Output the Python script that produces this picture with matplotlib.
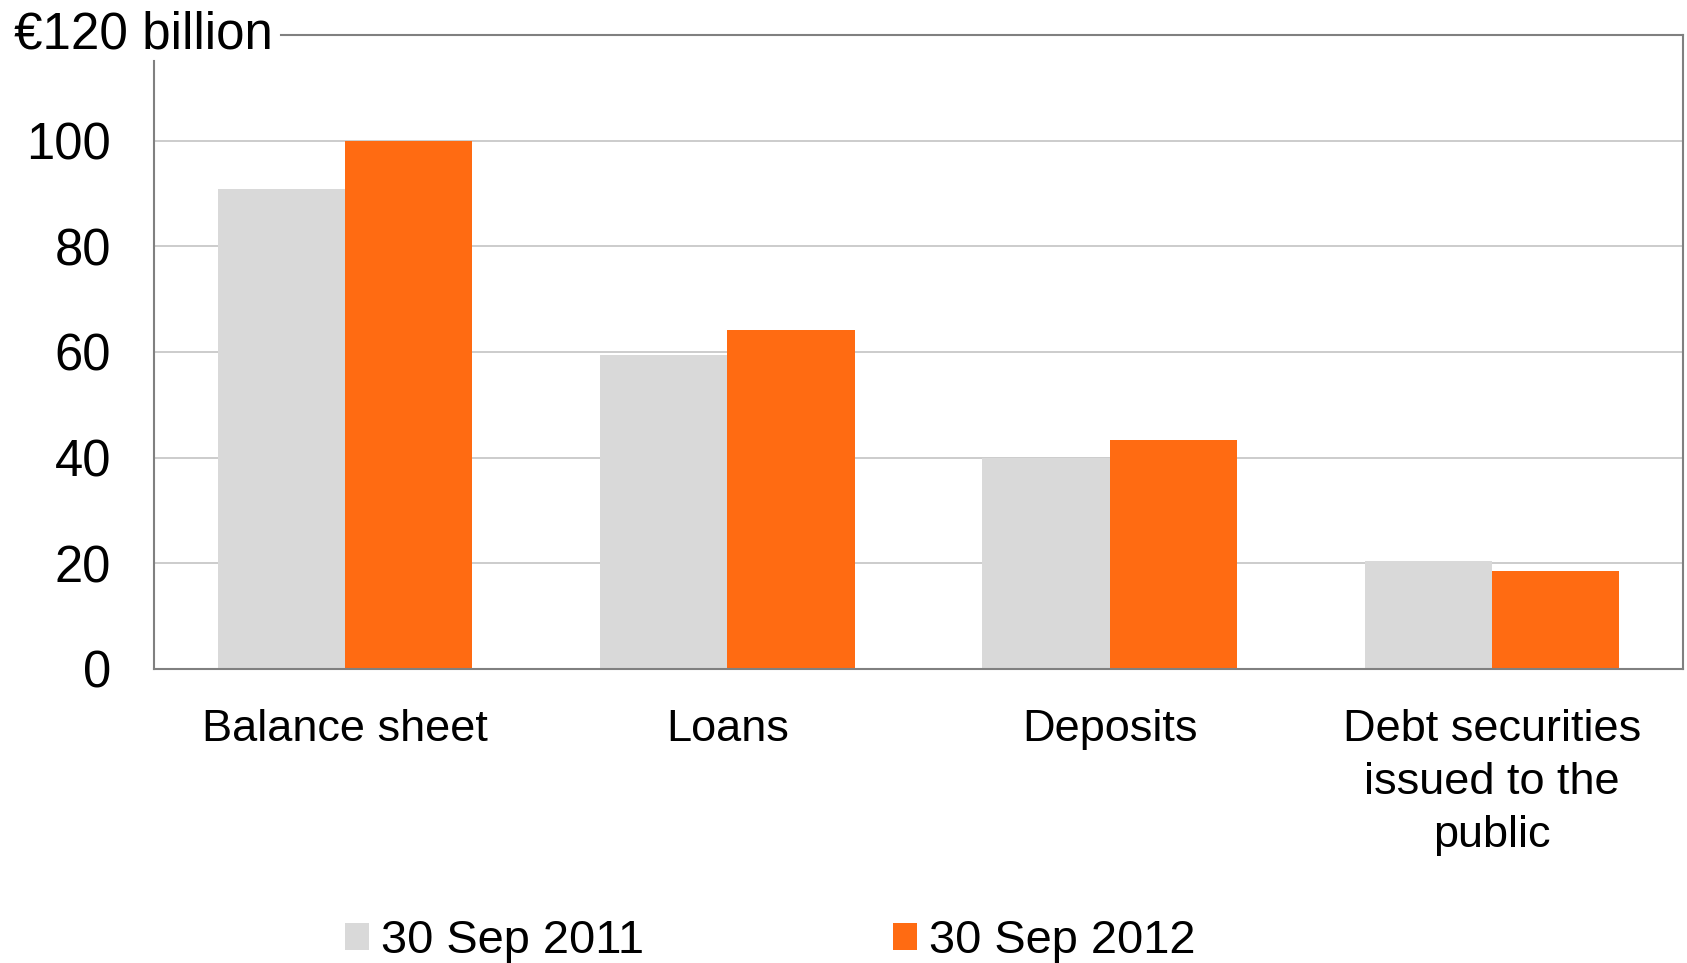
import numpy as np
import matplotlib
matplotlib.use("Agg")
import matplotlib.pyplot as plt
import matplotlib.transforms as mtransforms
from matplotlib.patches import Patch

plt.rcParams['font.family'] = ['Liberation Sans', 'DejaVu Sans']

categories = ["Balance sheet", "Loans", "Deposits", "Debt securities\nissued to the\npublic"]
sep_2011 = [90.9, 59.5, 40.0, 20.5]
sep_2012 = [99.9, 64.2, 43.4, 18.6]
series_labels = ["30 Sep 2011", "30 Sep 2012"]
yticks = [0, 20, 40, 60, 80, 100]

gray = "#d9d9d9"
orange = "#ff6b12"
spine_col = "#808080"

fig = plt.figure(figsize=(16.87, 9.63), dpi=100)
ax = fig.add_axes([154 / 1687, 1 - 669 / 963, (1683 - 154) / 1687, (669 - 35) / 963])

x = np.arange(len(categories))
w = 0.333
ax.bar(x - w / 2, sep_2011, width=w, color=gray, zorder=2)
ax.bar(x + w / 2, sep_2012, width=w, color=orange, zorder=2)

ax.set_xlim(-0.5, len(categories) - 0.5)
ax.set_ylim(0, 120)
ax.set_yticks(yticks)
ax.set_yticklabels([str(v) for v in yticks], fontsize=36.5)
ax.set_xticks(x)
ax.set_xticklabels(categories, fontsize=32.5, linespacing=1.37)
ax.tick_params(axis='y', length=0, pad=31)
ax.tick_params(axis='x', length=0, pad=29)

ax.yaxis.grid(True, color="#c8c8c8", linewidth=1.3, zorder=0)
ax.set_axisbelow(True)

ax.spines['top'].set_visible(False)
for s in ['left', 'right', 'bottom']:
    ax.spines[s].set_color(spine_col)
    ax.spines[s].set_linewidth(1.5)
ax.spines['left'].set_bounds(0, 115)

# top line at 120 starting after the unit label
ax.axhline(120, xmin=(281 - 154) / 1529, xmax=1, color=spine_col, linewidth=1.5, clip_on=False)
trans = mtransforms.blended_transform_factory(fig.transFigure, ax.transData)
ax.text(14 / 1687, 120, "€120 billion", transform=trans, ha='left', va='center', fontsize=36.8)

handles = [Patch(facecolor=gray, edgecolor='none'), Patch(facecolor=orange, edgecolor='none')]
fig.legend(handles, series_labels, loc='center', bbox_to_anchor=(770 / 1687, 1 - 941 / 963),
           ncol=2, frameon=False, fontsize=33.8, handlelength=0.52, handleheight=0.52,
           handletextpad=0.25, columnspacing=5.3, borderpad=0)

fig.savefig("out.png", dpi=100)
